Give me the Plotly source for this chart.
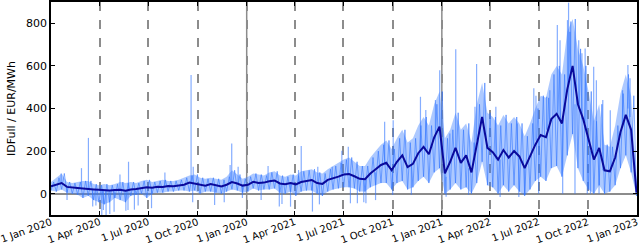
import pandas as pd
import plotly.graph_objects as go

# ------------------------------------------------------------
# data
# ------------------------------------------------------------
START, END = "2020-01-01", "2022-12-31"
N_POINTS = 111  # ~10 day steps

# smoothed price (dark line)
smooth = [
    35, 42, 50, 32, 28, 27, 25, 24, 20, 18,
    16, 15, 17, 18, 14, 20, 22, 25, 30, 28,
    33, 31, 36, 35, 38, 42, 52, 48, 42, 38,
    45, 38, 34, 42, 55, 48, 38, 42, 56, 50,
    52, 58, 62, 48, 44, 50, 44, 55, 60, 64,
    50, 46, 65, 72, 80, 90, 92, 82, 70, 68,
    95, 115, 135, 145, 110, 150, 180, 125, 140, 190,
    220, 185, 265, 315, 95, 150, 215, 145, 180, 100,
    230, 360, 215, 195, 160, 205, 170, 200, 175, 120,
    175, 230, 275, 265, 350, 375, 330, 490, 600, 420,
    350, 250, 160, 215, 110, 105, 170, 290, 370, 300,
    5,
]

# typical lower / upper extent of the raw series around each point
raw_lo = [
    15, 10, 20, 5, 0, -5, -20, -10, -30, -40,
    -50, -40, -20, -30, -40, -10, -5, 0, -20, 0,
    5, 5, 10, 10, 15, 15, 10, 15, 0, 10,
    10, 5, 0, 10, 20, 15, 5, 10, 25, 15,
    20, 20, 25, 5, 0, 10, -10, 10, 15, 15,
    0, -10, 10, 20, 25, 30, 30, 25, 10, 10,
    30, 40, 50, 50, 20, 50, 60, 20, 30, 60,
    80, 50, 100, 120, 0, 20, 50, 20, 30, 0,
    50, 150, 40, 30, 0, 40, 10, 40, 10, -10,
    20, 60, 80, 60, 120, 130, 80, 180, 280, 120,
    60, 20, 0, 40, 0, 10, 40, 120, 180, 100,
    -10,
]
raw_hi = [
    55, 75, 95, 55, 50, 55, 60, 60, 45, 40,
    45, 40, 45, 55, 50, 55, 50, 60, 65, 55,
    60, 65, 60, 60, 65, 75, 85, 90, 75, 70,
    75, 70, 65, 80, 110, 90, 70, 80, 95, 90,
    85, 100, 105, 85, 80, 90, 85, 105, 110, 115,
    100, 95, 115, 130, 145, 160, 170, 150, 130, 130,
    170, 200, 230, 250, 210, 260, 300, 240, 260, 320,
    360, 320, 420, 480, 260, 300, 380, 300, 330, 240,
    420, 520, 380, 360, 320, 370, 330, 360, 330, 270,
    330, 400, 460, 450, 560, 600, 560, 760, 820, 680,
    600, 480, 340, 420, 230, 220, 320, 470, 560, 460,
    60,
]

# isolated spikes of the raw series: date, start value, end value
spike_dates = [
    "2020-01-20", "2020-02-27", "2020-03-11", "2020-05-09", "2020-05-25",
    "2020-08-01", "2020-09-19", "2020-09-23", "2020-12-04", "2020-12-01",
    "2020-12-16", "2021-02-10", "2021-04-13", "2021-04-08", "2021-05-14",
    "2021-06-10", "2021-06-28", "2021-07-10", "2021-09-16", "2021-10-02",
    "2021-11-22", "2021-12-02", "2021-12-20", "2021-12-28", "2022-01-16",
    "2022-01-27", "2022-03-04", "2022-03-07", "2022-04-12", "2022-05-22",
    "2022-06-22", "2022-06-26", "2022-07-16", "2022-07-22", "2022-08-05",
    "2022-08-10", "2022-08-24", "2022-08-26", "2022-08-30", "2022-09-14",
    "2022-09-20", "2022-09-26", "2022-10-12", "2022-10-17", "2022-10-29",
    "2022-11-12", "2022-12-05", "2022-12-15", "2022-12-19",
    "2020-01-31", "2020-03-19", "2020-03-25", "2020-04-05", "2020-04-08",
    "2020-04-13", "2020-04-20", "2020-04-28", "2020-05-20", "2020-05-24",
    "2020-06-05", "2020-06-12", "2020-07-07", "2020-09-22", "2020-11-02",
    "2020-11-20", "2020-12-24", "2021-01-28", "2021-03-03", "2021-03-08",
    "2021-03-24", "2021-05-04", "2021-05-17", "2021-07-14", "2021-07-27",
    "2021-08-08", "2021-08-12", "2021-08-30", "2021-10-01", "2021-11-05",
    "2022-01-09", "2022-02-20", "2022-04-20", "2022-05-25", "2022-06-05",
    "2022-07-01", "2022-08-15", "2022-09-07", "2022-09-30", "2022-10-06",
    "2022-10-22",
]
spike_from = [
    45, 30, 25, 20, 20, 30, 50, 45, 50, 45,
    45, 55, 50, 50, 55, 65, 85, 90, 140, 120,
    200, 210, 260, 300, 150, 210, 200, 250, 160, 190,
    230, 250, 300, 330, 370, 350, 480, 520, 560, 400,
    350, 330, 160, 200, 110, 120, 310, 400, 360,
    30, 22, 20, 15, 15, 15, 15, 15, 15, 15,
    20, 22, 25, 45, 35, 35, 40, 50, 45, 45,
    45, 55, 45, 85, 80, 70, 70, 100, 110, 140,
    80, 120, 160, 170, 120, 250, 350, 420, 270, 200,
    200,
]
spike_to = [
    95, 120, 262, 90, 150, 100, 557, 127, 236, 135,
    127, 130, 224, 111, 127, 127, 202, 221, 338, 345,
    455, 393, 440, 580, 283, 678, 408, 609, 408, 330,
    495, 460, 455, 486, 792, 721, 815, 897, 808, 721,
    659, 682, 596, 533, 440, 392, 486, 604, 542,
    -30, -60, -55, -100, -77, -100, -95, -85, -80, -77,
    -75, -55, -68, -40, -53, -40, -20, -30, -60, -48,
    -61, -84, -50, -45, -45, -40, -45, -30, -6, -5,
    -14, -5, -15, -15, -5, 0, 0, 0, 0, 0,
    0,
]

# x ticks (labels as printed on the original)
tick_dates = pd.date_range("2020-01-01", "2023-01-01", freq="QS")
tick_text = [
    "1 Jan 2020", "1 Apr 2020", "1 Jul 2020", "1 Oct 2020",
    "1 Jan 2020", "1 Apr 2021", "1 Jul 2021", "1 Oct 2021",
    "1 Jan 2021", "1 Apr 2022", "1 Jul 2022", "1 Oct 2022",
    "1 Jan 2023",
]
year_lines = ["2021-01-01", "2022-01-01"]

LIGHT = "rgba(51,119,255,0.6)"
LIGHT_FILL = "rgba(51,119,255,0.4)"
DARK = "#0a0a9c"
GRID = "#8c8c8c"
FONT = "DejaVu Sans, sans-serif"

dates = pd.date_range(START, END, periods=N_POINTS)

# ------------------------------------------------------------
# raw series: band + zigzag + spikes
# ------------------------------------------------------------
zig_x, zig_y = [], []
for d, lo, hi in zip(dates, raw_lo, raw_hi):
    zig_x += [d, d + pd.Timedelta(days=5)]
    zig_y += [lo, hi]

spk_x, spk_y = [], []
for d, a, b in zip(spike_dates, spike_from, spike_to):
    spk_x += [d, d, None]
    spk_y += [a, b, None]

fig = go.Figure()
fig.add_trace(go.Scatter(x=dates, y=raw_hi, mode="lines", line=dict(width=0),
                         hoverinfo="skip", showlegend=False))
fig.add_trace(go.Scatter(x=dates, y=raw_lo, mode="lines", line=dict(width=0),
                         fill="tonexty", fillcolor=LIGHT_FILL,
                         hoverinfo="skip", showlegend=False))
fig.add_trace(go.Scatter(x=zig_x, y=zig_y, mode="lines",
                         line=dict(color=LIGHT, width=1), showlegend=False))
fig.add_trace(go.Scatter(x=spk_x, y=spk_y, mode="lines",
                         line=dict(color=LIGHT, width=1.2), showlegend=False))
fig.add_trace(go.Scatter(x=dates, y=smooth, mode="lines",
                         line=dict(color=DARK, width=2), showlegend=False))

# solid lines at the year boundaries
for d in year_lines:
    fig.add_shape(type="line", xref="x", yref="paper", x0=d, x1=d, y0=0, y1=1,
                  line=dict(color=GRID, width=1.5), layer="below")

fig.update_layout(
    width=640, height=244,
    margin=dict(l=51, r=3, t=2, b=29, autoexpand=False),
    paper_bgcolor="white", plot_bgcolor="white",
    font=dict(family=FONT, size=11, color="black"),
    xaxis=dict(
        range=["2020-01-01", "2023-01-01"], automargin=False,
        tickmode="array", tickvals=tick_dates, ticktext=tick_text,
        tickangle=-20, tickfont=dict(size=10), ticklabelstandoff=-4,
        ticklabeloverflow="allow",
        showgrid=True, gridcolor=GRID, griddash="dash", gridwidth=1.5,
        ticks="inside", ticklen=4, tickcolor="black",
        showline=True, linecolor="black", linewidth=1.5, mirror="allticks",
        zeroline=False,
    ),
    yaxis=dict(
        range=[-100, 900], tickvals=[0, 200, 400, 600, 800], automargin=False,
        title=dict(text="IDFull / EUR/MWh", font=dict(size=11), standoff=8),
        showgrid=False,
        zeroline=True, zerolinecolor=GRID, zerolinewidth=1.5,
        ticks="inside", ticklen=4, tickcolor="black",
        showline=True, linecolor="black", linewidth=1.5, mirror="allticks",
    ),
)

# the page body has a default margin; drop it so the figure fills the window
fig.write_html("out.html", config={"displayModeBar": False},
               post_script="document.body.style.margin='0';")
